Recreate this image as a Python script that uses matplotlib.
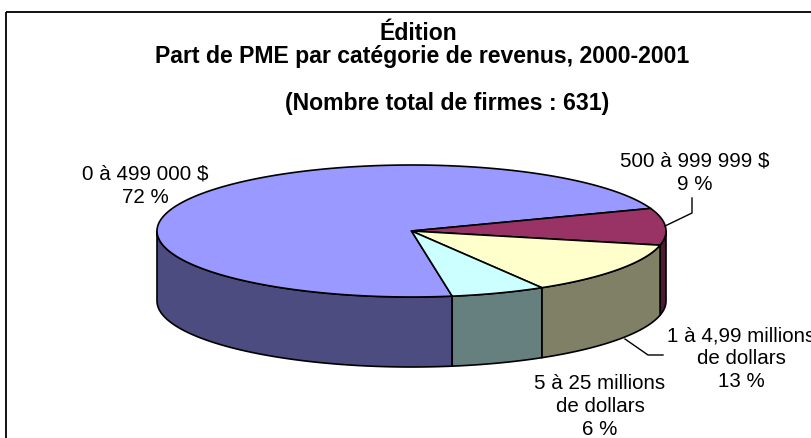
import numpy as np
import matplotlib
matplotlib.use('Agg')
from matplotlib import pyplot as plt
from matplotlib.patches import Polygon, Rectangle

plt.rcParams['font.family'] = ['Liberation Sans', 'DejaVu Sans']

# data
categories = [['0 à 499 000 $'], ['500 à 999 999 $'], ['1 à 4,99 millions', 'de dollars'], ['5 à 25 millions', 'de dollars']]
shares = [72, 9, 13, 6]
top_colors = ['#9999FF', '#993366', '#FFFFCC', '#CCFFFF']
side_colors = ['#4C4C80', '#4D1933', '#808066', '#668080']
title_lines = ['Édition', 'Part de PME par catégorie de revenus, 2000-2001', '(Nombre total de firmes : 631)']

# pie geometry, in pixels
CX, CY = 411.5, 232
RX, RY = 254.5, 66
DEPTH = 70
START = 279.2  # angle of first slice, slices run clockwise

# label placement (pixels): centre x, first-line y, line step
label_pos = [(145, 174, 24), (695, 161, 24), (741, 336, 23), (600, 384, 23)]
leaders = [None, [(692, 199), (692, 214), (665, 227)], [(625, 340), (648, 356), (663, 356)], None]
title_pos = [(418, 40), (422, 63), (447, 110)]


def ell(t_deg, dy=0):
    t = np.radians(t_deg)
    return CX + RX * np.cos(t), CY - RY * np.sin(t) + dy


fig = plt.figure(figsize=(8.12, 4.39), dpi=100)
ax = fig.add_axes([0, 0, 1, 1])
ax.set_xlim(0, 812)
ax.set_ylim(439, 0)
ax.axis('off')

ax.add_patch(Rectangle((6.5, 12.5), 900, 500, fill=False, ec='black', lw=1.3, zorder=0))

fracs = np.array(shares, dtype=float) / sum(shares)
bounds = START - np.concatenate([[0], np.cumsum(fracs) * 360])

# side walls (front half only)
for i in range(len(shares)):
    hi, lo = bounds[i], bounds[i + 1]
    for k in (-1, 0, 1):
        a = max(lo, 180 + 360 * k)
        b = min(hi, 360 + 360 * k)
        if b <= a:
            continue
        ts = np.linspace(a, b, 80)
        xs, ys = ell(ts)
        xb, yb = ell(ts[::-1], DEPTH)
        pts = np.column_stack([np.concatenate([xs, xb]), np.concatenate([ys, yb])])
        ax.add_patch(Polygon(pts, closed=True, fc=side_colors[i], ec='black', lw=1.2, joinstyle='round', zorder=2))

# top faces
for i in range(len(shares)):
    ts = np.linspace(bounds[i], bounds[i + 1], 200)
    xs, ys = ell(ts)
    pts = np.column_stack([np.concatenate([[CX], xs]), np.concatenate([[CY], ys])])
    ax.add_patch(Polygon(pts, closed=True, fc=top_colors[i], ec='black', lw=1.2, joinstyle='round', zorder=3))

# slice labels
for i, lines in enumerate(categories):
    x, y, step = label_pos[i]
    for j, line in enumerate(lines + [f'{shares[i]} %']):
        ax.text(x, y + j * step, line, ha='center', va='center', fontsize=14.8, zorder=5)
    if leaders[i]:
        lx, ly = zip(*leaders[i])
        ax.plot(lx, ly, color='black', lw=1.0, zorder=4)

for (x, y), line in zip(title_pos, title_lines):
    ax.text(x, y, line, ha='center', va='baseline', fontsize=16.6, fontweight='bold')

fig.savefig('out.png', dpi=100)
